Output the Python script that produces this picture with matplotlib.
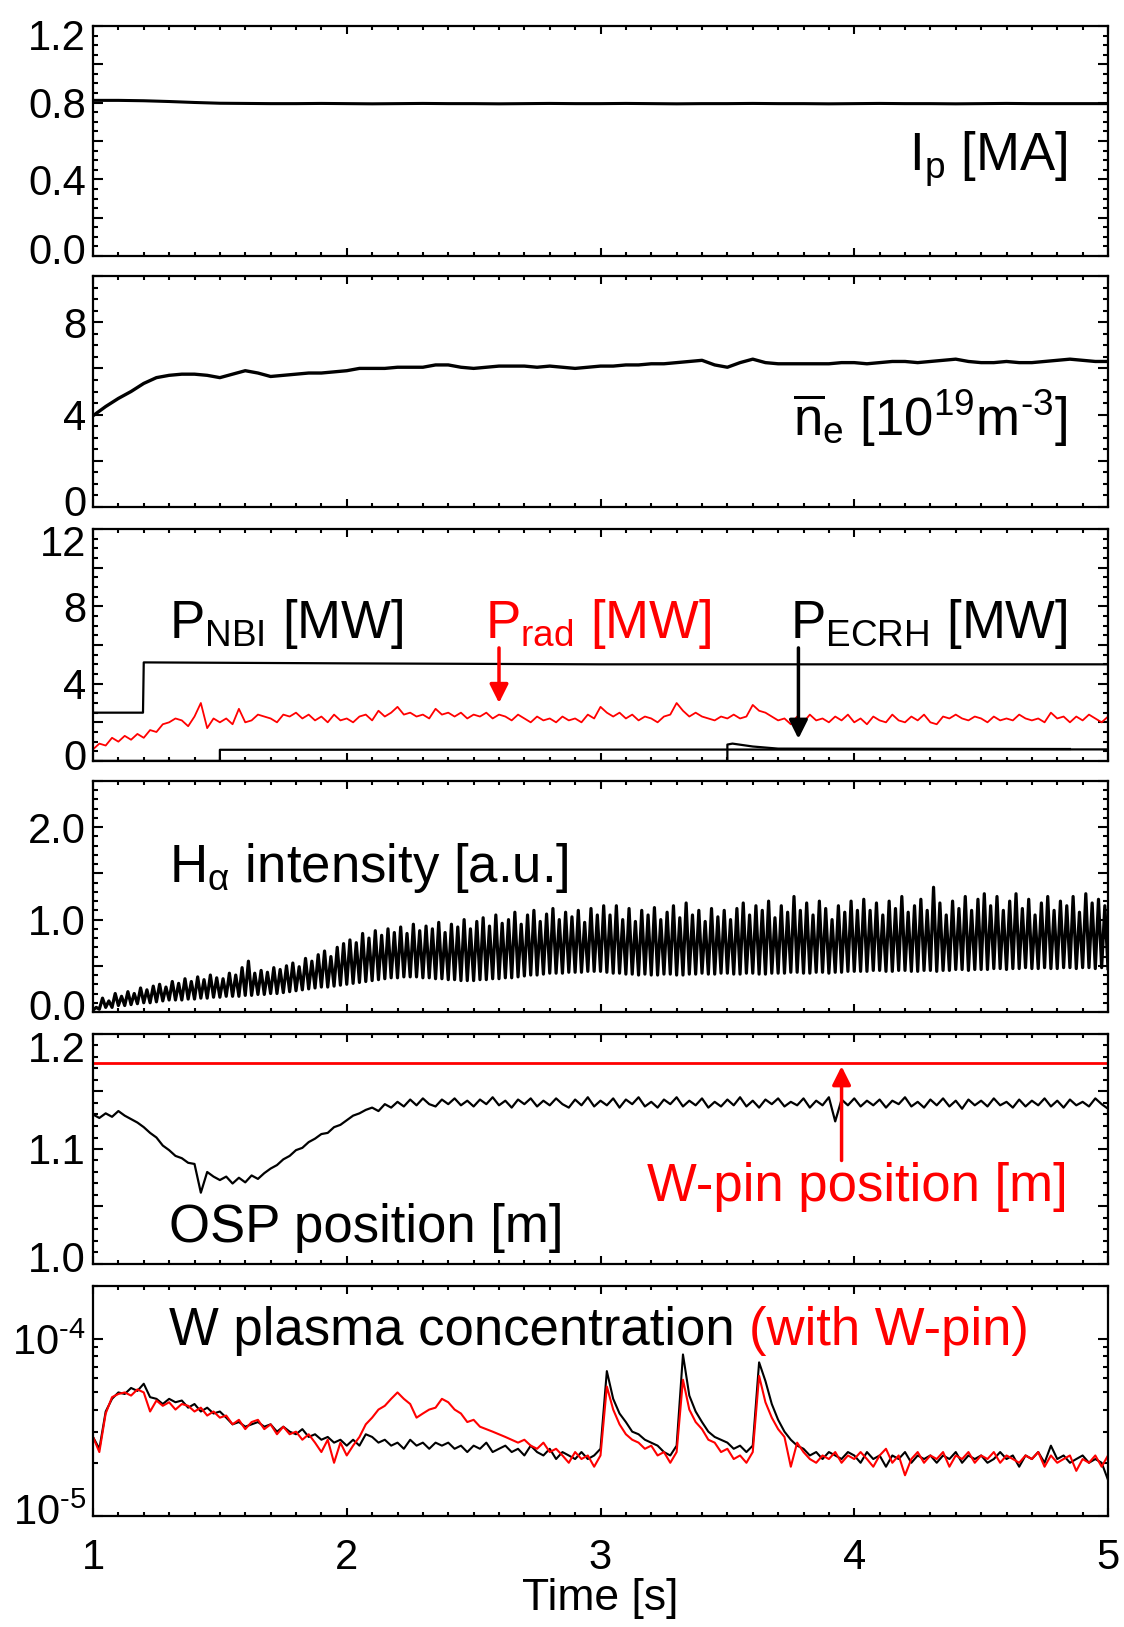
import numpy as np
import matplotlib
matplotlib.use("Agg")
import matplotlib.pyplot as plt
from matplotlib.ticker import MultipleLocator, FuncFormatter, LogLocator, NullFormatter
from matplotlib.transforms import ScaledTranslation

plt.rcParams['font.family'] = ['Liberation Sans', 'DejaVu Sans']
plt.rcParams['mathtext.fontset'] = 'custom'
plt.rcParams['mathtext.rm'] = 'Liberation Sans'
plt.rcParams['mathtext.it'] = 'Liberation Sans:italic'
plt.rcParams['mathtext.bf'] = 'Liberation Sans:bold'

# ---------------- data ----------------
# plasma current [MA], every 0.1 s from 1.0 to 5.0
ip = [0.812, 0.812, 0.810, 0.806, 0.801, 0.797, 0.796, 0.795, 0.795, 0.796,
      0.795, 0.794, 0.795, 0.796, 0.795, 0.795, 0.794, 0.795, 0.796, 0.795,
      0.795, 0.796, 0.795, 0.794, 0.795, 0.795, 0.796, 0.795, 0.795, 0.794,
      0.795, 0.796, 0.795, 0.795, 0.794, 0.795, 0.796, 0.795, 0.795, 0.795,
      0.795]

# line averaged density [1e19 m^-3], every 0.05 s
ne = [3.95, 4.35, 4.70, 5.00, 5.35, 5.60, 5.70, 5.75, 5.75, 5.70,
      5.60, 5.75, 5.90, 5.80, 5.65, 5.70, 5.75, 5.80, 5.80, 5.85,
      5.90, 6.00, 6.00, 6.00, 6.05, 6.05, 6.05, 6.15, 6.15, 6.05,
      6.00, 6.05, 6.10, 6.10, 6.10, 6.05, 6.10, 6.05, 6.00, 6.05,
      6.10, 6.10, 6.15, 6.15, 6.20, 6.20, 6.25, 6.30, 6.35, 6.15,
      6.05, 6.25, 6.40, 6.25, 6.20, 6.20, 6.20, 6.20, 6.20, 6.25,
      6.25, 6.20, 6.25, 6.30, 6.30, 6.25, 6.30, 6.35, 6.40, 6.30,
      6.25, 6.25, 6.30, 6.25, 6.25, 6.30, 6.35, 6.40, 6.35, 6.30,
      6.30]

# heating powers [MW]
nbi_t = [1.0, 1.197, 1.2, 2.0, 3.0, 4.0, 5.0]
nbi = [2.5, 2.5, 5.1, 5.05, 5.0, 5.0, 5.0]
ecrh1_t = [1.0, 1.5, 1.5, 5.0]
ecrh1 = [0.0, 0.0, 0.58, 0.60]
ecrh2_t = [1.0, 3.5, 3.5, 3.52, 3.6, 3.7, 4.85]
ecrh2 = [0.0, 0.0, 0.85, 0.90, 0.75, 0.64, 0.62]

# radiated power [MW], every 0.025 s
prad = [0.6, 0.9, 0.8, 1.2, 1.0, 1.3, 1.1, 1.4, 1.2, 1.6,
        1.5, 1.9, 2.0, 2.2, 2.1, 1.8, 2.3, 3.0, 1.7, 2.2,
        2.0, 2.2, 1.9, 2.7, 2.0, 2.1, 2.4, 2.3, 2.2, 2.0,
        2.4, 2.3, 2.5, 2.2, 2.4, 2.1, 2.3, 2.0, 2.4, 2.1,
        2.2, 2.0, 2.3, 2.4, 2.1, 2.6, 2.3, 2.5, 2.8, 2.4,
        2.5, 2.3, 2.4, 2.2, 2.7, 2.4, 2.5, 2.3, 2.5, 2.2,
        2.4, 2.3, 2.5, 2.2, 2.4, 2.3, 2.1, 2.4, 2.2, 2.0,
        2.3, 2.1, 2.2, 2.0, 2.3, 2.1, 2.2, 2.0, 2.4, 2.2,
        2.8, 2.5, 2.3, 2.5, 2.2, 2.4, 2.1, 2.3, 2.2, 2.0,
        2.3, 2.4, 3.0, 2.6, 2.3, 2.5, 2.3, 2.2, 2.1, 2.3,
        2.2, 2.4, 2.2, 2.3, 2.9, 2.6, 2.5, 2.3, 2.1, 2.2,
        1.9, 2.3, 2.0, 2.4, 2.1, 2.2, 2.0, 2.3, 2.1, 2.4,
        2.0, 2.2, 1.9, 2.3, 2.1, 2.0, 2.4, 2.1, 2.0, 2.3,
        2.1, 2.4, 2.0, 1.9, 2.3, 2.2, 2.4, 2.2, 2.1, 2.3,
        2.2, 2.0, 2.3, 2.1, 2.2, 2.1, 2.4, 2.2, 2.1, 2.2,
        2.0, 2.5, 2.2, 2.3, 2.0, 2.3, 2.1, 2.4, 2.2, 2.0,
        2.3]

# H-alpha, lower / upper envelope of the ELMy signal, every 0.025 s
ha_lo = [0.02, 0.03, 0.05, 0.05, 0.07, 0.07, 0.08, 0.09, 0.10, 0.10,
         0.11, 0.12, 0.13, 0.13, 0.13, 0.14, 0.14, 0.15, 0.15, 0.16,
         0.16, 0.17, 0.17, 0.17, 0.18, 0.18, 0.19, 0.19, 0.20, 0.20,
         0.21, 0.22, 0.23, 0.24, 0.25, 0.26, 0.27, 0.27, 0.28, 0.29,
         0.30, 0.31, 0.32, 0.33, 0.34, 0.35, 0.36, 0.37, 0.37, 0.38,
         0.38, 0.38, 0.37, 0.37, 0.36, 0.36, 0.35, 0.35, 0.34, 0.34,
         0.34, 0.35, 0.35, 0.36, 0.36, 0.37, 0.37, 0.38, 0.39, 0.40,
         0.40, 0.41, 0.42, 0.42, 0.42, 0.43, 0.43, 0.43, 0.44, 0.44,
         0.44, 0.43, 0.42, 0.42, 0.41, 0.41, 0.40, 0.41, 0.40, 0.40,
         0.41, 0.41, 0.40, 0.40, 0.41, 0.41, 0.42, 0.41, 0.41, 0.42,
         0.42, 0.41, 0.41, 0.42, 0.42, 0.41, 0.41, 0.42, 0.42, 0.42,
         0.43, 0.43, 0.42, 0.42, 0.43, 0.43, 0.42, 0.43, 0.43, 0.44,
         0.44, 0.44, 0.44, 0.45, 0.45, 0.44, 0.44, 0.45, 0.45, 0.44,
         0.44, 0.45, 0.45, 0.44, 0.45, 0.45, 0.46, 0.46, 0.45, 0.46,
         0.46, 0.46, 0.47, 0.47, 0.46, 0.47, 0.47, 0.48, 0.47, 0.47,
         0.48, 0.47, 0.47, 0.48, 0.48, 0.47, 0.48, 0.48, 0.47, 0.48,
         0.47]
ha_hi = [0.05, 0.15, 0.12, 0.20, 0.17, 0.22, 0.20, 0.26, 0.24, 0.28,
         0.30, 0.27, 0.33, 0.31, 0.36, 0.33, 0.38, 0.35, 0.40, 0.37,
         0.36, 0.42, 0.40, 0.48, 0.55, 0.42, 0.45, 0.43, 0.48, 0.46,
         0.50, 0.53, 0.49, 0.58, 0.55, 0.62, 0.66, 0.60, 0.70, 0.74,
         0.78, 0.75, 0.85, 0.80, 0.88, 0.83, 0.90, 0.86, 0.92, 0.85,
         0.95, 0.88, 0.93, 0.90, 0.97, 0.86, 0.95, 0.92, 1.00, 0.90,
         0.98, 1.02, 0.93, 1.05, 0.96, 1.00, 1.08, 0.95, 1.05, 1.10,
         0.98, 1.06, 1.12, 1.00, 1.08, 1.03, 1.10, 0.97, 1.12, 1.05,
         1.15, 1.05, 1.15, 1.00, 1.12, 0.98, 1.10, 1.05, 1.13, 1.00,
         1.08, 1.15, 1.02, 1.18, 1.05, 1.10, 0.98, 1.12, 1.03, 1.10,
         1.00, 1.12, 1.18, 1.05, 1.15, 1.10, 1.20, 1.02, 1.15, 1.08,
         1.25, 1.10, 1.18, 1.05, 1.20, 1.12, 1.00, 1.15, 1.08, 1.20,
         1.10, 1.22, 1.10, 1.18, 1.05, 1.20, 1.12, 1.25, 1.08, 1.15,
         1.22, 1.10, 1.35, 1.18, 1.05, 1.20, 1.12, 1.25, 1.10, 1.22,
         1.28, 1.15, 1.25, 1.10, 1.20, 1.28, 1.12, 1.22, 1.05, 1.18,
         1.25, 1.10, 1.20, 1.15, 1.25, 1.08, 1.28, 1.18, 1.22, 1.15,
         1.05]

# outer strike point position [m], every 0.025 s
osp = [1.130, 1.127, 1.131, 1.128, 1.133, 1.129, 1.126, 1.123, 1.119, 1.114,
       1.110, 1.103, 1.099, 1.094, 1.092, 1.088, 1.087, 1.062, 1.080, 1.076,
       1.073, 1.076, 1.070, 1.075, 1.071, 1.077, 1.074, 1.079, 1.083, 1.086,
       1.091, 1.094, 1.099, 1.101, 1.106, 1.109, 1.113, 1.114, 1.119, 1.121,
       1.125, 1.129, 1.131, 1.134, 1.136, 1.133, 1.139, 1.136, 1.141, 1.137,
       1.143, 1.138, 1.144, 1.139, 1.137, 1.143, 1.139, 1.144, 1.138, 1.142,
       1.137, 1.143, 1.139, 1.145, 1.138, 1.142, 1.136, 1.143, 1.139, 1.144,
       1.137, 1.142, 1.138, 1.144, 1.139, 1.136, 1.143, 1.138, 1.145, 1.137,
       1.142, 1.138, 1.144, 1.136, 1.143, 1.139, 1.145, 1.137, 1.141, 1.136,
       1.143, 1.139, 1.145, 1.137, 1.142, 1.138, 1.144, 1.136, 1.141, 1.137,
       1.143, 1.138, 1.145, 1.137, 1.142, 1.136, 1.143, 1.139, 1.144, 1.137,
       1.141, 1.138, 1.144, 1.136, 1.142, 1.138, 1.145, 1.124, 1.143, 1.138,
       1.144, 1.137, 1.142, 1.138, 1.143, 1.136, 1.142, 1.139, 1.145, 1.137,
       1.141, 1.136, 1.143, 1.138, 1.144, 1.137, 1.142, 1.135, 1.143, 1.138,
       1.142, 1.137, 1.144, 1.138, 1.141, 1.136, 1.143, 1.137, 1.142, 1.138,
       1.144, 1.137, 1.142, 1.136, 1.143, 1.138, 1.141, 1.137, 1.144, 1.139,
       1.135]
wpin_pos = 1.175

# W concentration [1e-5], every 0.025 s
cw_ref = [2.8, 2.4, 3.9, 4.6, 5.0, 4.9, 5.3, 5.1, 5.6, 4.7,
          4.6, 4.3, 4.6, 4.4, 4.5, 4.1, 4.3, 3.9, 4.1, 3.8,
          3.9, 3.6, 3.3, 3.4, 3.2, 3.3, 3.4, 3.2, 3.3, 3.0,
          3.2, 3.0, 2.9, 3.1, 2.8, 2.9, 2.7, 2.8, 2.6, 2.7,
          2.5, 2.7, 2.5, 2.9, 2.8, 2.6, 2.7, 2.5, 2.6, 2.4,
          2.7, 2.5, 2.6, 2.4, 2.6, 2.5, 2.6, 2.4, 2.5, 2.3,
          2.5, 2.4, 2.6, 2.3, 2.4, 2.5, 2.3, 2.4, 2.2, 2.5,
          2.3, 2.2, 2.4, 2.1, 2.3, 2.2, 2.1, 2.3, 2.1, 2.2,
          2.4, 6.6, 4.6, 3.8, 3.4, 3.0, 2.9, 2.7, 2.6, 2.5,
          2.3, 2.2, 2.5, 8.2, 4.8, 3.9, 3.4, 3.0, 2.8, 2.7,
          2.6, 2.4, 2.5, 2.3, 2.5, 7.4, 5.8, 4.3, 3.5, 3.0,
          2.7, 2.5, 2.4, 2.2, 2.3, 2.1, 2.3, 2.2, 2.1, 2.3,
          2.2, 2.0, 2.3, 2.1, 2.2, 1.9, 2.2, 2.1, 2.3, 2.0,
          2.2, 2.1, 2.2, 2.0, 2.2, 2.1, 2.3, 2.0, 2.2, 2.1,
          2.2, 2.0, 2.1, 2.3, 2.1, 2.2, 1.9, 2.2, 2.1, 2.3,
          2.0, 2.5, 2.1, 2.2, 2.0, 2.1, 2.2, 2.0, 2.1, 2.0,
          1.6]
cw_pin = [2.8, 2.3, 3.8, 4.7, 4.9, 5.0, 4.8, 5.2, 5.0, 3.9,
          4.5, 4.2, 4.4, 4.0, 4.3, 4.2, 3.9, 4.1, 3.7, 3.9,
          3.6, 3.7, 3.3, 3.5, 3.1, 3.4, 3.5, 3.1, 3.3, 2.9,
          3.2, 2.9, 3.0, 2.7, 2.9, 2.6, 2.3, 2.7, 2.0, 2.6,
          2.2, 2.5, 2.8, 3.3, 3.6, 4.0, 4.2, 4.6, 5.0, 4.6,
          4.3, 3.6, 3.8, 4.0, 4.1, 4.6, 4.4, 4.0, 3.8, 3.4,
          3.5, 3.2, 3.1, 3.0, 2.9, 2.8, 2.7, 2.6, 2.7, 2.5,
          2.4, 2.6, 2.3, 2.4, 2.2, 2.0, 2.3, 2.1, 2.2, 1.9,
          2.2, 5.4, 4.0, 3.3, 2.9, 2.7, 2.6, 2.4, 2.5, 2.2,
          2.3, 2.0, 2.3, 5.9, 4.0, 3.4, 3.1, 2.7, 2.6, 2.3,
          2.4, 2.1, 2.2, 2.0, 2.3, 6.2, 4.4, 3.6, 3.1, 2.8,
          1.9, 2.6, 2.3, 2.1, 2.0, 2.2, 2.1, 2.3, 2.0, 2.2,
          2.1, 2.3, 2.1, 1.9, 2.2, 2.4, 2.0, 2.2, 1.7, 2.1,
          2.3, 2.0, 2.2, 2.1, 2.3, 1.9, 2.2, 2.1, 2.3, 2.0,
          2.2, 2.1, 2.3, 2.0, 2.2, 2.1, 2.0, 2.2, 2.1, 2.3,
          1.9, 2.2, 2.0, 2.1, 2.2, 1.8, 2.1, 2.0, 2.2, 1.9,
          2.2]

t_ip = np.linspace(1, 5, len(ip))
t_ne = np.linspace(1, 5, len(ne))
t_f = np.linspace(1, 5, len(prad))   # 0.025 s grid

# ---------------- figure ----------------
fig = plt.figure(figsize=(11.24, 16.27), dpi=100)
W, H = 1124, 1627
left, right = 93, 1108
panels_px = [(26, 256), (276, 507), (529, 761), (781, 1012), (1034, 1264), (1286, 1516)]
axs = []
for top, bot in panels_px:
    ax = fig.add_axes([left / W, 1 - bot / H, (right - left) / W, (bot - top) / H])
    axs.append(ax)

TICK = 30
LAB = 38
HY = '\u2010'  # short hyphen used in the exponents


def style(ax, ymin, ymax, major, minor, lab_step, fmt):
    ax.set_xlim(1, 5)
    ax.set_ylim(ymin, ymax)
    ax.xaxis.set_major_locator(MultipleLocator(1))
    ax.xaxis.set_minor_locator(MultipleLocator(0.1))
    if major is not None:
        ax.yaxis.set_major_locator(MultipleLocator(major))
        ax.yaxis.set_minor_locator(MultipleLocator(minor))
        ax.yaxis.set_major_formatter(FuncFormatter(
            lambda v, p: (fmt % v) if abs(v / lab_step - round(v / lab_step)) < 1e-6 else ''))
    for s in ax.spines.values():
        s.set_linewidth(1.6)
    ax.tick_params(which='both', direction='in', top=True, right=True, width=1.5,
                   labelsize=TICK)
    ax.tick_params(axis='x', which='major', length=5.5, pad=16)
    ax.tick_params(axis='x', which='minor', length=2.8)
    ax.tick_params(axis='y', which='major', length=7.5, pad=5)
    ax.tick_params(axis='y', which='minor', length=3.8)
    ax.tick_params(axis='x', labelbottom=False)


# panel 1: Ip
ax = axs[0]
style(ax, 0, 1.2, 0.2, 0.05, 0.4, '%.1f')
ax.plot(t_ip, ip, color='black', lw=2.2)
ax.text(0.96, 0.37, r'$\mathrm{I_p}$ [MA]', transform=ax.transAxes, ha='right',
        va='baseline', fontsize=LAB)

# panel 2: density
ax = axs[1]
style(ax, 0, 10, 2, 0.5, 4, '%d')
ax.plot(t_ne, ne, color='black', lw=2.4)
ax.text(0.96, 0.307, r'$\mathrm{\overline{n}_e}$ [10$^{19}$m$^{' + HY + '3}$]',
        transform=ax.transAxes, ha='right', va='baseline', fontsize=LAB)

# panel 3: powers
ax = axs[2]
style(ax, 0, 12, 2, 0.5, 4, '%d')
ax.plot(nbi_t, nbi, color='black', lw=1.6)
ax.plot(ecrh1_t, ecrh1, color='black', lw=1.6)
ax.plot(ecrh2_t, ecrh2, color='black', lw=1.6)
ax.plot(t_f, prad, color='red', lw=1.3)
ax.text(0.075, 0.53, r'$\mathrm{P_{NBI}}$ [MW]', transform=ax.transAxes, ha='left',
        va='baseline', fontsize=LAB)
ax.text(0.386, 0.53, r'$\mathrm{P_{rad}}$ [MW]', transform=ax.transAxes, ha='left',
        va='baseline', fontsize=LAB, color='red')
ax.text(0.96, 0.53, r'$\mathrm{P_{ECRH}}$ [MW]', transform=ax.transAxes, ha='right',
        va='baseline', fontsize=LAB)
ax.annotate('', xy=(2.6, 3.0), xytext=(2.6, 5.85),
            arrowprops=dict(arrowstyle='-|>', color='red', lw=2.5, mutation_scale=28,
                            shrinkA=0, shrinkB=0))
ax.annotate('', xy=(3.78, 1.15), xytext=(3.78, 5.85),
            arrowprops=dict(arrowstyle='-|>', color='black', lw=2.5, mutation_scale=28,
                            shrinkA=0, shrinkB=0))

# panel 4: H-alpha (min/max strokes)
ax = axs[3]
style(ax, 0, 2.5, 0.5, 0.1, 1.0, '%.1f')
t_ha = np.column_stack([t_f, t_f + 0.0125]).ravel()
v_ha = np.column_stack([ha_lo, ha_hi]).ravel()
keep = t_ha <= 5
ax.plot(t_ha[keep], v_ha[keep], color='black', lw=2.3)
ax.text(0.075, 0.563, r'$\mathrm{H_{\alpha}}$ intensity [a.u.]', transform=ax.transAxes,
        ha='left', va='baseline', fontsize=LAB)

# panel 5: strike point
ax = axs[4]
style(ax, 1.0, 1.2, 0.05, 0.01, 0.1, '%.1f')
ax.plot(t_f, osp, color='black', lw=1.6)
ax.axhline(wpin_pos, color='red', lw=2)
ax.text(0.075, 0.096, 'OSP position [m]', transform=ax.transAxes, ha='left',
        va='baseline', fontsize=LAB)
ax.text(0.96, 0.274, 'W-pin position [m]', transform=ax.transAxes, ha='right',
        va='baseline', fontsize=LAB, color='red')
ax.annotate('', xy=(3.95, 1.172), xytext=(3.95, 1.09),
            arrowprops=dict(arrowstyle='-|>', color='red', lw=2.5, mutation_scale=28,
                            shrinkA=0, shrinkB=0))

# panel 6: W concentration
ax = axs[5]
style(ax, 1e-5, 2e-4, None, None, None, None)
ax.set_yscale('log')
ax.set_ylim(1e-5, 2e-4)
ax.yaxis.set_major_locator(LogLocator(base=10))
ax.yaxis.set_minor_locator(LogLocator(base=10, subs=np.arange(2, 10)))
ax.yaxis.set_major_formatter(FuncFormatter(
    lambda v, p: r'$\mathrm{10^{' + HY + '%d}}$' % round(-np.log10(v))))
ax.yaxis.set_minor_formatter(NullFormatter())
ax.tick_params(which='both', direction='in', top=True, right=True, width=1.5, labelsize=TICK)
ax.tick_params(axis='y', which='major', length=7.5, pad=5)
ax.tick_params(axis='y', which='minor', length=3.8)
ax.plot(t_f, np.array(cw_ref) * 1e-5, color='black', lw=1.5)
ax.plot(t_f, np.array(cw_pin) * 1e-5, color='red', lw=1.5)
t1 = ax.text(0.075, 0.743, 'W plasma concentration ', transform=ax.transAxes, ha='left',
             va='baseline', fontsize=LAB)
ax.annotate('(with W-pin)', xy=(1, 0), xycoords=t1, ha='left', va='bottom',
            fontsize=LAB, color='red')
ax.tick_params(axis='x', labelbottom=True)
ax.set_xticks([1, 2, 3, 4, 5])
ax.set_xticklabels(['1', '2', '3', '4', '5'])
ax.set_xlabel('Time [s]', fontsize=32, labelpad=0)

# pull the end labels of each y axis inside the frame, as in the original
top_shift = [-9, -10, -11, -10, -13, -10]
fig.canvas.draw()
for ax, ts in zip(axs, top_shift):
    y0, y1 = ax.get_ylim()
    for tick in ax.yaxis.get_major_ticks():
        loc = tick.get_loc()
        if np.isclose(loc, y0, rtol=1e-6):
            dy = 7
        elif np.isclose(loc, y1, rtol=1e-6):
            dy = ts
        else:
            continue
        tick.label1.set_transform(tick.label1.get_transform() +
                                  ScaledTranslation(0, dy / 100, fig.dpi_scale_trans))

fig.savefig('out.png', dpi=100)
